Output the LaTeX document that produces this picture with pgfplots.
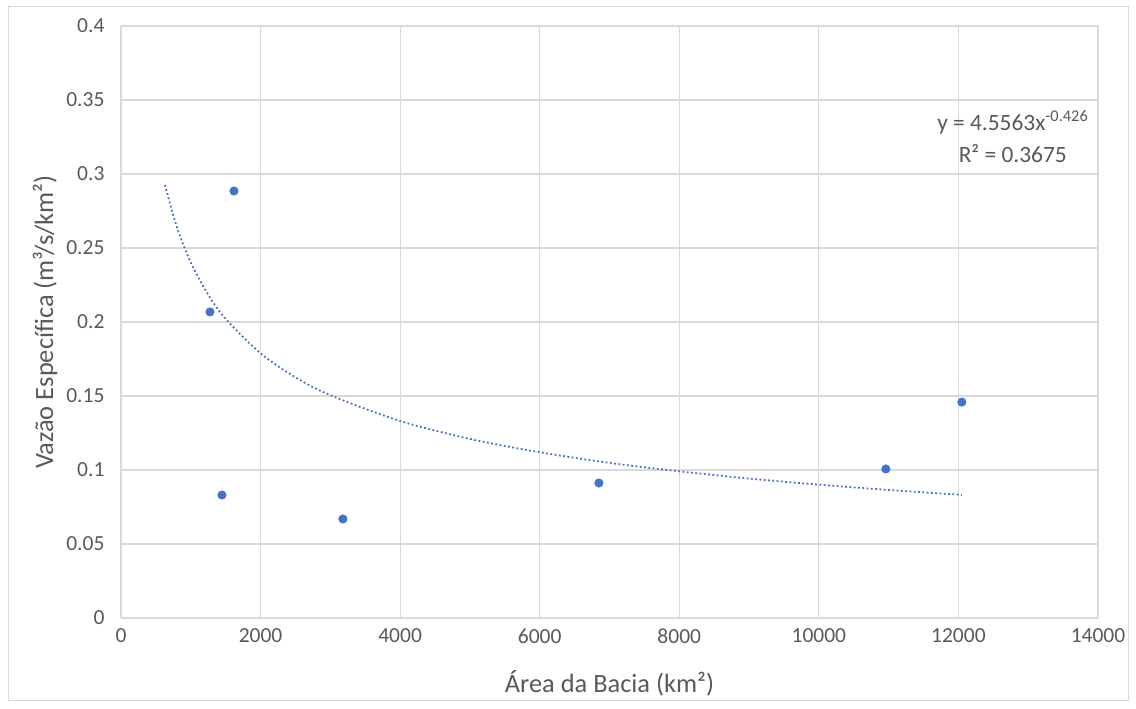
\documentclass[border=0pt]{standalone}
\usepackage{pgfplots}
\pgfplotsset{compat=1.18}
\usepackage{fontspec}
\setmainfont{Carlito}
\definecolor{ptblue}{HTML}{4472C4}
\definecolor{gridgray}{HTML}{D9D9D9}
\definecolor{txtgray}{HTML}{595959}
\begin{document}
\begin{tikzpicture}[x=1pt,y=1pt]
\path[use as bounding box] (-121,-91) rectangle (1015,618);
\draw[gridgray,line width=0.8pt] (-113,-82) rectangle (1007,612);
\begin{axis}[
  at={(0,0)}, anchor=south west,
  scale only axis, width=977pt, height=592pt,
  xmin=0, xmax=14000, ymin=0, ymax=0.4,
  xtick={0,2000,...,14000}, ytick={0,0.05,...,0.4},
  xticklabels={0,2000,4000,6000,8000,10000,12000,14000},
  yticklabels={0,0.05,0.1,0.15,0.2,0.25,0.3,0.35,0.4},
  scaled x ticks=false,
  grid=major, major grid style={gridgray,line width=1.1pt},
  axis line style={draw=none},
  axis x line*=bottom, axis y line*=left,
  x axis line style={draw=gridgray,line width=1.2pt},
  major tick length=0pt,
  tick label style={font=\fontsize{21.5}{24}\selectfont, text=txtgray},
  xticklabel style={yshift=-7pt},
  yticklabel style={xshift=-13pt},
  xlabel={Área da Bacia (km²)}, ylabel={Vazão Específica (m³/s/km²)},
  label style={font=\fontsize{26.4}{28}\selectfont, text=txtgray},
  xlabel style={at={(axis description cs:0.5,-0.110)}, anchor=center},
  ylabel style={at={(axis description cs:-0.0778,0.5)}, anchor=center},
  clip=false,
]
\addplot[ptblue, dash pattern=on 1.8pt off 2.5pt, line width=1.8pt, smooth] coordinates {
(630,0.2926) (800,0.2642) (1000,0.2402) (1250,0.2184) (1500,0.2021)
(2000,0.1788) (2500,0.1626) (3000,0.1505) (4000,0.1331) (5000,0.1210)
(6000,0.1120) (7000,0.1048) (8000,0.0991) (9000,0.0942) (10000,0.0901)
(11000,0.0865) (12050,0.0832)};
\addplot[only marks, mark=*, mark size=4.3pt, mark options={fill=ptblue, draw=ptblue}] coordinates {
(1619,0.2885) (1275,0.2068) (1447,0.0831) (3180,0.0669) (6848,0.0912) (10960,0.1007) (12049,0.1459)};
\node[font=\fontsize{23.4}{26}\selectfont, text=txtgray, align=center, anchor=center] at (axis cs:12779,0.3250)
  {y = 4.5563x\textsuperscript{-0.426}\\[6pt] R² = 0.3675};
\end{axis}
\end{tikzpicture}
\end{document}
